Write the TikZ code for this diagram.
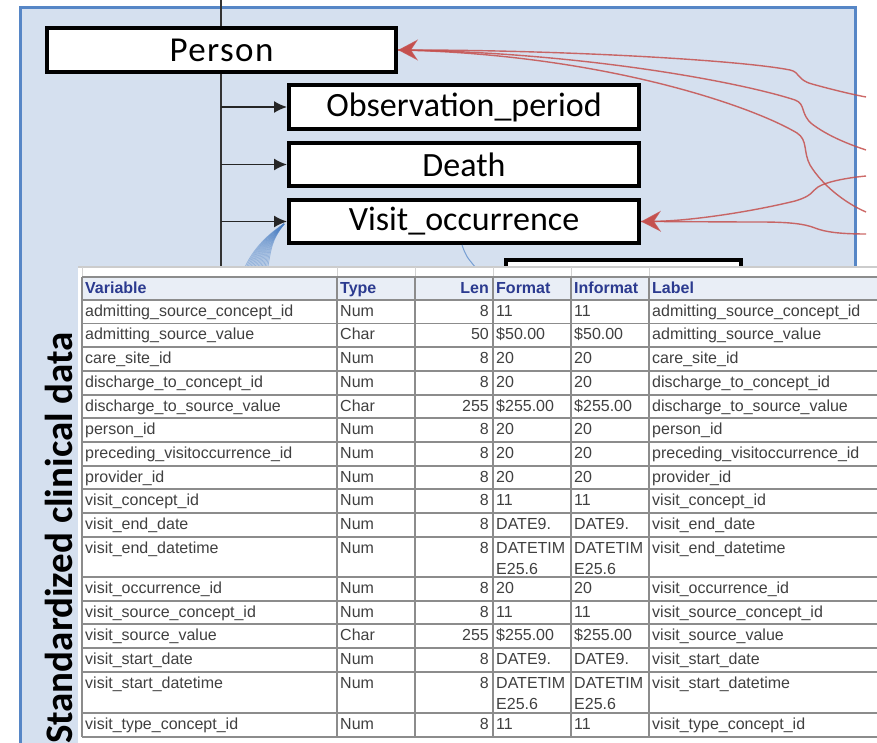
\documentclass[tikz,border=0pt]{standalone}
\usepackage{fontspec}
\setmainfont{Liberation Sans}
\newfontfamily\carlito{Carlito}
\newfontfamily\carlitowide[LetterSpace=4]{Carlito}
\usetikzlibrary{arrows.meta}
\definecolor{panel}{HTML}{D5E0EF}
\definecolor{panelborder}{HTML}{5686C6}
\definecolor{redline}{HTML}{C5504E}
\definecolor{fanblue}{HTML}{4A7FC4}
\definecolor{hdrtext}{HTML}{2B3A8F}
\definecolor{celltext}{HTML}{404040}
\definecolor{gridgray}{HTML}{8C8C8C}
\definecolor{hdrfill}{HTML}{E9EEF6}
\begin{document}
\begin{tikzpicture}[x=1pt,y=-1pt,
  entity/.style={draw=black, line width=4pt, fill=white, inner sep=0pt,
    minimum width=350pt, minimum height=44pt,
    font=\carlito\fontsize{34}{34}\selectfont},
  spine/.style={draw=black!80, line width=2pt},
  blackarrow/.style={draw=black!85, line width=1.6pt, -{Latex[length=13pt,width=12pt]}},
  redl/.style={draw=redline, draw opacity=.85, line width=1.4pt},
  redtip/.style={arrows={-{Stealth[length=20pt,width=21pt,inset=7pt,fill=redline]}}},
  redtipstart/.style={arrows={{Stealth[length=20pt,width=21pt,inset=7pt,fill=redline]}-}},
  cellt/.style={inner sep=0pt, anchor=base west, text=celltext, font=\fontsize{16}{16}\selectfont},
  cellr/.style={cellt, anchor=base east},
  hdrt/.style={cellt, text=hdrtext, font=\bfseries\fontsize{16}{16}\selectfont},
  hdrr/.style={hdrt, anchor=base east},
  gridl/.style={draw=gridgray, line width=1.2pt},
]
\useasboundingbox (0,0) rectangle (877,743);
\fill[white] (0,0) rectangle (877,743);
% panel
\fill[panel] (20,7) rectangle (857,743);
\draw[panelborder, line width=3pt] (20.5,743) -- (20.5,7.5) -- (855.5,7.5) -- (855.5,743);

% spine
\coordinate (spTop) at (221,0);
\coordinate (spBot) at (221,270);
\draw[spine] (spTop) -- (spBot);

% entity boxes
\node[entity, minimum width=349pt, font=\carlitowide\fontsize{35}{35}\selectfont] (person) at (221.5,50) {Person};
\node[entity] (obs) at (464,107) {Observation\_period};
\node[entity, minimum height=43pt] (death) at (464,164.5) {Death};
\node[entity, minimum height=43pt] (visit) at (464,221.5) {Visit\_occurrence};
\node[draw=black, line width=4pt, fill=white, inner sep=0pt, minimum width=235pt,
      minimum height=40pt, anchor=north west] (hiddenbox) at (504,258) {};

\coordinate (s1) at (221,107);
\coordinate (s2) at (221,164.5);
\coordinate (s3) at (221,221.5);
\draw[blackarrow] (s1) -- (obs.west);
\draw[blackarrow] (s2) -- (death.west);
\draw[blackarrow] (s3) -- (visit.west);

% blue fan
\coordinate (fantop) at (284,224);
\foreach \k in {0,...,16}
  \draw[fanblue, draw opacity=.45, line width=.8pt]
    (fantop) .. controls (271,232+0.6*\k) and (252+1.2*\k,248) .. (243+1.5*\k,272);
\draw[fanblue!75, line width=1pt] ([xshift=-2pt]visit.south) .. controls (466,256) .. (476,268);

% red curves
\coordinate (rA) at (866,97);
\coordinate (rB) at (866,150);
\coordinate (rC) at (866,212);
\coordinate (rD) at (866,176);
\coordinate (rE) at (866,234);
\draw[redl, redtipstart] (person.east) .. controls (560,50) and (740,60) .. (790,70)
  .. controls (800,72) and (797,80) .. (812,84) .. controls (830,89) and (850,94) .. (rA);
\draw[redl] (person.east) .. controls (580,52) and (740,82) .. (795,100)
  .. controls (806,104) and (800,114) .. (812,124) .. controls (828,136) and (848,144) .. (rB);
\draw[redl] (person.east) .. controls (600,54) and (750,105) .. (797,133)
  .. controls (808,140) and (803,152) .. (810,165) .. controls (822,185) and (845,203) .. (rC);
\draw[redl] (rE) .. controls (840,234) and (825,232) .. (815,228)
  .. controls (805,224) and (790,222) .. (760,222) .. controls (720,222) and (680,221.5) .. (visit.east);
\draw[redl, redtip] (rD) .. controls (845,178) and (826,182) .. (818,187)
  .. controls (811,192) and (812,196) .. (795,201) .. controls (750,212) and (690,221) .. (visit.east);

% table
\fill[white] (78,266) rectangle (877,743);
\draw[gray!40, line width=1.5pt] (78,267) -- (877,267);
\fill[hdrfill] (82,277) rectangle (877,300);
\foreach \x in {82,337,415,493,571,649}
  \draw[gray!35, line width=1pt] (\x,267) -- (\x,277);
\foreach \y in {277,300,323.5,347,371,395,418,442,466,489,513,537,577,601,624,648,672,713,737}
  \draw[gridl] (82,\y) -- (877,\y);
\foreach \x in {82,337,415,493,571,649}
  \draw[gridl] (\x,277) -- (\x,737);

\node[hdrt] (h1) at (85,293) {Variable};
\node[hdrt] (h2) at (340,293) {Type};
\node[hdrr] (h3) at (489,293) {Len};
\node[hdrt] (h4) at (496,293) {Format};
\node[hdrt] (h5) at (574,293) {Informat};
\node[hdrt] (h6) at (652,293) {Label};

\foreach \yy/\va/\vb/\vc/\vd/\ve/\vf [count=\i] in {
  316/admitting\_source\_concept\_id/Num/8/11/11/admitting\_source\_concept\_id,
  339.5/admitting\_source\_value/Char/50/\$50.00/\$50.00/admitting\_source\_value,
  363/care\_site\_id/Num/8/20/20/care\_site\_id,
  387/discharge\_to\_concept\_id/Num/8/20/20/discharge\_to\_concept\_id,
  411/discharge\_to\_source\_value/Char/255/\$255.00/\$255.00/discharge\_to\_source\_value,
  434/person\_id/Num/8/20/20/person\_id,
  458/preceding\_visitoccurrence\_id/Num/8/20/20/preceding\_visitoccurrence\_id,
  482/provider\_id/Num/8/20/20/provider\_id,
  505/visit\_concept\_id/Num/8/11/11/visit\_concept\_id,
  529/visit\_end\_date/Num/8/DATE9./DATE9./visit\_end\_date,
  553/visit\_end\_datetime/Num/8/DATETIM/DATETIM/visit\_end\_datetime,
  593/visit\_occurrence\_id/Num/8/20/20/visit\_occurrence\_id,
  617/visit\_source\_concept\_id/Num/8/11/11/visit\_source\_concept\_id,
  640/visit\_source\_value/Char/255/\$255.00/\$255.00/visit\_source\_value,
  664/visit\_start\_date/Num/8/DATE9./DATE9./visit\_start\_date,
  688/visit\_start\_datetime/Num/8/DATETIM/DATETIM/visit\_start\_datetime,
  729/visit\_type\_concept\_id/Num/8/11/11/visit\_type\_concept\_id}
{
  \node[cellt] (var\i) at (85,\yy) {\va};
  \node[cellt] (typ\i) at (340,\yy) {\vb};
  \node[cellr] (len\i) at (489,\yy) {\vc};
  \node[cellt] (fmt\i) at (496,\yy) {\vd};
  \node[cellt] (inf\i) at (574,\yy) {\ve};
  \node[cellt] (lab\i) at (652,\yy) {\vf};
}
\node[cellt] (fmtB11) at (496,574) {E25.6};
\node[cellt] (infB11) at (574,574) {E25.6};
\node[cellt] (fmtB16) at (496,709) {E25.6};
\node[cellt] (infB16) at (574,709) {E25.6};

% vertical title
\node[rotate=90, anchor=base, inner sep=0pt, text=black,
      font=\carlito\bfseries\fontsize{39}{39}\selectfont] (title) at (72,538)
      {Standardized clinical data};
\end{tikzpicture}
\end{document}
